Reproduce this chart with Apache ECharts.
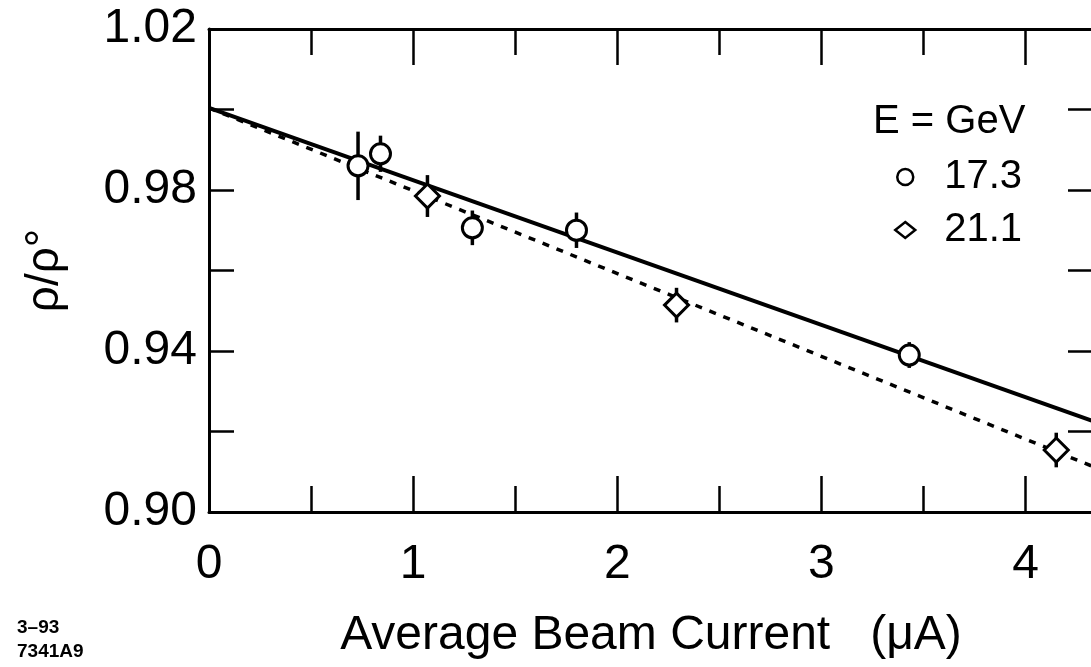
<!DOCTYPE html>
<html><head><meta charset="utf-8">
<script src="https://cdn.jsdelivr.net/npm/echarts@6/dist/echarts.min.js"></script>
<style>html,body{margin:0;padding:0;background:#fff}#c{width:1091px;height:667px}</style>
</head><body><div id="c"></div>
<script>
// Data
const current17 = [0.73, 0.84, 1.29, 1.80, 3.43];
const ratio17   = [0.986, 0.989, 0.9706, 0.970, 0.939];
const err17     = [0.0085, 0.0045, 0.0043, 0.0044, 0.0032];
const current21 = [1.07, 2.29, 4.15];
const ratio21   = [0.9785, 0.9514, 0.9154];
const err21     = [0.0052, 0.0043, 0.0043];
const fitX      = [0, 4.33];
const fitSolid  = [1.0004, 0.9226];
const fitDashed = [1.0004, 0.9113];
const xTickLabels = [0, 1, 2, 3, 4];
const yTickLabels = [0.90, 0.94, 0.98, 1.02];

const FONT = "'Liberation Sans', Arial, Helvetica, sans-serif";
const X_MIN = 0, X_MAX = 4.33, Y_MIN = 0.90, Y_MAX = 1.02;

const chart = echarts.init(document.getElementById('c'), null, {renderer: 'canvas'});

function errRender(params, api) {
  const x = api.value(0), lo = api.value(1), hi = api.value(2);
  const p1 = api.coord([x, lo]), p2 = api.coord([x, hi]);
  return {type: 'line', shape: {x1: p1[0], y1: p1[1], x2: p2[0], y2: p2[1]},
          style: {stroke: '#000', lineWidth: 3.5}};
}
const pts = (xs, ys) => xs.map((x, i) => [x, ys[i]]);
const errs = (xs, ys, es) => xs.map((x, i) => [x, ys[i] - es[i], ys[i] + es[i]]);

function xAx(pos, interval, len, main) {
  return {
    type: 'value', position: pos, min: X_MIN, max: X_MAX, interval: interval,
    axisLine: {show: main, onZero: false, lineStyle: {color: '#000', width: 3}},
    axisTick: {show: true, inside: true, length: len, lineStyle: {color: '#000', width: 2.5}},
    axisLabel: (main && pos === 'bottom') ? {
      show: true, margin: 29, fontSize: 48, color: '#000', fontFamily: FONT,
      formatter: v => xTickLabels.some(t => Math.abs(t - v) < 1e-6) ? String(Math.round(v)) : ''
    } : {show: false},
    splitLine: {show: false},
    name: (main && pos === 'bottom') ? 'Average Beam Current   (\u03bcA)' : '',
    nameLocation: 'middle', nameGap: 100,
    nameTextStyle: {fontSize: 48, color: '#000', fontFamily: FONT}
  };
}
function yAx(pos, main) {
  return {
    type: 'value', position: pos, min: Y_MIN, max: Y_MAX, interval: 0.02,
    axisLine: {show: true, onZero: false, lineStyle: {color: '#000', width: 3}},
    axisTick: {show: true, inside: true, length: 25, lineStyle: {color: '#000', width: 2.5}},
    axisLabel: main ? {
      show: true, margin: 12, fontSize: 48, color: '#000', fontFamily: FONT,
      formatter: v => yTickLabels.some(t => Math.abs(t - v) < 1e-6) ? v.toFixed(2) : ''
    } : {show: false},
    splitLine: {show: false},
    name: main ? '\u03c1/\u03c1\u00b0' : '',
    nameLocation: 'middle', nameGap: 141,
    nameTextStyle: {fontSize: 46, color: '#000', fontFamily: FONT}
  };
}

const option = {
  backgroundColor: '#fff',
  animation: false,
  grid: {left: 209, top: 29, width: 884, height: 483, containLabel: false, outerBoundsMode: 'none'},
  xAxis: [xAx('bottom', 1, 36, true), xAx('bottom', 0.5, 26, false), xAx('top', 1, 36, true), xAx('top', 0.5, 26, false)],
  yAxis: [yAx('left', true), yAx('right', false)],
  legend: {
    orient: 'vertical', left: 894, top: 155, padding: 0, itemGap: 9,
    itemWidth: 20, itemHeight: 16, selectedMode: false,
    textStyle: {fontSize: 40, lineHeight: 44, color: '#000', fontFamily: FONT, padding: [0, 0, 0, 24]},
    data: [
      {name: '17.3', icon: 'circle', itemStyle: {color: '#fff', borderColor: '#000', borderWidth: 2.5}},
      {name: '21.1', icon: 'diamond', itemStyle: {color: '#fff', borderColor: '#000', borderWidth: 2.5}}
    ]
  },
  graphic: [
    {type: 'text', x: 873, y: 122, style: {text: 'E = GeV', font: '40px ' + FONT, fill: '#000', verticalAlign: 'middle'}},
    {type: 'text', x: 17, y: 628, style: {text: '3\u201393', font: 'bold 19px ' + FONT, fill: '#000', verticalAlign: 'middle'}},
    {type: 'text', x: 17, y: 652, style: {text: '7341A9', font: 'bold 19px ' + FONT, fill: '#000', verticalAlign: 'middle'}}
  ],
  series: [
    {name: 'fit17', type: 'line', data: pts(fitX, fitSolid), showSymbol: false, symbol: 'none', z: 1,
     lineStyle: {color: '#000', width: 4, type: 'solid'}},
    {name: 'fit21', type: 'line', data: pts(fitX, fitDashed), showSymbol: false, symbol: 'none', z: 1,
     lineStyle: {color: '#000', width: 3.5, type: [7, 8]}},
    {name: 'err17', type: 'custom', renderItem: errRender, data: errs(current17, ratio17, err17), z: 2},
    {name: 'err21', type: 'custom', renderItem: errRender, data: errs(current21, ratio21, err21), z: 2},
    {name: '17.3', type: 'scatter', data: pts(current17, ratio17), symbol: 'circle', symbolSize: 20, z: 3,
     itemStyle: {color: '#fff', borderColor: '#000', borderWidth: 3, opacity: 1}},
    {name: '21.1', type: 'scatter', data: pts(current21, ratio21), symbol: 'diamond', symbolSize: 24, z: 3,
     itemStyle: {color: '#fff', borderColor: '#000', borderWidth: 3, opacity: 1}}
  ]
};
chart.setOption(option);
</script></body></html>
